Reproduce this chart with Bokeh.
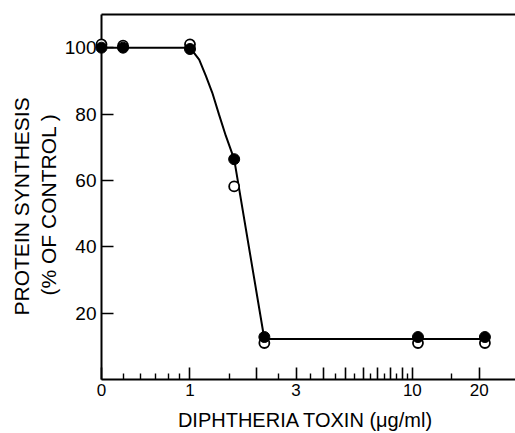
from bokeh.plotting import figure
from bokeh.models import (Range1d, FixedTicker, LogAxis, Title, CustomJSTickFormatter)
from bokeh.embed import file_html
from bokeh.resources import INLINE

# --- data (x: toxin dose in ug/ml on a log axis; the "0" dose is drawn at the axis break 0.4) ---
dose = [0.4, 0.5, 1.0, 1.58, 2.16, 10.6, 21.2]
filled_pct = [100, 100, 99.6, 66.4, 12.8, 12.8, 12.8]
open_pct = [101, 100.6, 101, 58.2, 11.0, 11.0, 11.0]

curve_dose = [0.4, 1.0, 1.1, 1.18, 1.26, 1.35, 1.45, 1.58, 2.16, 21.2]
curve_pct = [100, 100, 96.4, 91.4, 86.4, 79.9, 73.4, 66.4, 12.2, 12.2]

x_tick_values = [0.4, 1, 2, 3, 4, 5, 6, 7, 8, 9, 10, 20]
x_tick_labels = ["0", "1", "", "3", "", "", "", "", "", "", "10", "20"]
x_minor_ticks = [0.5, 0.6, 0.7, 0.8, 0.9, 1.5, 2.5, 3.5, 4.5, 5.5, 6.5, 7.5, 8.5, 9.5, 15]
y_tick_values = [20, 40, 60, 80, 100]

FONT = "Liberation Sans"

p = figure(width=515, height=433, x_axis_type="log",
           x_range=Range1d(0.4, 29.1), y_range=Range1d(0, 110),
           output_backend="svg", toolbar_location=None,
           min_border_left=101, min_border_right=0, min_border_top=14, min_border_bottom=52)
p.outline_line_color = None
p.grid.visible = False
p.background_fill_color = "white"
p.border_fill_color = "white"

# curve and points
p.line(curve_dose, curve_pct, line_color="black", line_width=2)
p.scatter(dose, open_pct, size=10, marker="circle", fill_color="white",
          line_color="black", line_width=1.8, level="overlay")
p.scatter(dose, filled_pct, size=11, marker="circle", fill_color="black",
          line_color="black", line_width=1, level="overlay")

# x axis
xa = p.xaxis[0]
xa.ticker = FixedTicker(ticks=x_tick_values, minor_ticks=x_minor_ticks)
xa.formatter = CustomJSTickFormatter(args=dict(vals=x_tick_values, labs=x_tick_labels), code="""
for (let i = 0; i < vals.length; i++) { if (Math.abs(vals[i] - tick) < 1e-6) return labs[i]; }
return "";
""")
xa.axis_line_width = 2
xa.major_tick_in = 12
xa.major_tick_out = 0
xa.minor_tick_in = 6
xa.minor_tick_out = 0
xa.major_tick_line_width = 1.6
xa.minor_tick_line_width = 1.4
xa.major_label_text_font = FONT
xa.major_label_text_font_size = "17px"
xa.major_label_standoff = 4
xa.major_label_text_color = "black"
xa.axis_label = "DIPHTHERIA  TOXIN (\u03bcg/ml)"
xa.axis_label_text_font = FONT
xa.axis_label_text_font_size = "20px"
xa.axis_label_text_font_style = "normal"
xa.axis_label_text_color = "black"
xa.axis_label_standoff = 10

# y axis
ya = p.yaxis[0]
ya.ticker = FixedTicker(ticks=y_tick_values)
ya.axis_line_width = 2
ya.major_tick_in = 12
ya.major_tick_out = 0
ya.minor_tick_line_color = None
ya.major_tick_line_width = 1.6
ya.major_label_text_font = FONT
ya.major_label_text_font_size = "19px"
ya.major_label_standoff = 5
ya.major_label_text_color = "black"

# top border
top = LogAxis(ticker=FixedTicker(ticks=[]), axis_line_width=2,
              major_tick_line_color=None, minor_tick_line_color=None,
              major_label_text_font_size="0px")
p.add_layout(top, "above")

# y titles (two lines, as side-panel titles)
p.add_layout(Title(text="(% OF  CONTROL )", align="left", offset=84, standoff=3,
                   text_font=FONT, text_font_size="21px", text_font_style="normal",
                   text_color="black"), "left")
p.add_layout(Title(text="PROTEIN  SYNTHESIS", align="left", offset=64, standoff=1,
                   text_font=FONT, text_font_size="21px", text_font_style="normal",
                   text_color="black"), "left")

open("out.html", "w").write(file_html(p, INLINE))
